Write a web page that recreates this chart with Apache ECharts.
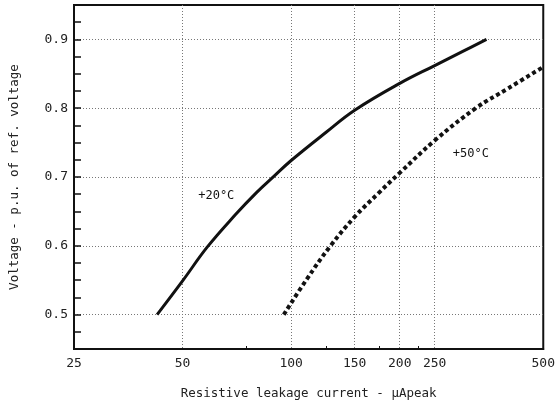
<!DOCTYPE html>
<html>
<head>
<meta charset="utf-8">
<script src="https://cdn.jsdelivr.net/npm/echarts@6/dist/echarts.min.js"></script>
<style>
  html, body { margin: 0; padding: 0; background: #fff; }
  #main { width: 558px; height: 406px; }
</style>
</head>
<body>
<div id="main"></div>
<script>
    // 曲线数据
    var current20 = [42.5, 50, 58.5, 70, 80, 90, 100, 125, 150, 200, 250, 300, 348];
    var voltage20 = [0.5, 0.549, 0.598, 0.645, 0.677, 0.702, 0.724, 0.765, 0.797, 0.836, 0.862, 0.883, 0.9];
    var current50 = [95.4, 110, 128.6, 150, 175, 200, 250, 325, 400, 500];
    var voltage50 = [0.5, 0.55, 0.6, 0.642, 0.677, 0.706, 0.753, 0.8, 0.829, 0.86];

    var xLabels = [25, 50, 100, 150, 200, 250, 500];
    var xGrid = [50, 100, 150, 200, 250];
    var xMinorTicks = [75, 125, 175, 225];
    var yLabels = [0.5, 0.6, 0.7, 0.8, 0.9];
    var yTicks = [0.475, 0.5, 0.525, 0.55, 0.575, 0.6, 0.625, 0.65, 0.675, 0.7, 0.725, 0.75, 0.775, 0.8, 0.825, 0.85, 0.875, 0.9, 0.925];

    function pairs(xs, ys) {
        var out = [];
        for (var i = 0; i < xs.length; i++) out.push([xs[i], ys[i]]);
        return out;
    }

    var font = 'DejaVu Sans Mono';
    var myChart = echarts.init(document.getElementById('main'));

    var option = {
        animation: false,
        grid: {
            left: 73, right: 10, top: 5, bottom: 57,
            show: true, borderColor: '#111', borderWidth: 2, backgroundColor: 'transparent'
        },
        xAxis: [{
            type: 'log', logBase: 10, min: 25, max: 500,
            name: 'Resistive leakage current - \u00b5Apeak',
            nameLocation: 'middle', nameGap: 38,
            nameTextStyle: { fontFamily: font, fontSize: 12.5, color: '#222' },
            axisLine: { show: true, lineStyle: { color: '#111', width: 2 } },
            axisTick: { show: false, customValues: xGrid },
            axisLabel: { customValues: xLabels, fontFamily: font, fontSize: 13, color: '#222', margin: 8,
                formatter: function (v) { return String(Math.round(v)); } },
            splitLine: { show: true, lineStyle: { color: '#777', type: [1, 2], width: 1 } },
            minorTick: { show: false }, minorSplitLine: { show: false }
        }, {
            type: 'log', logBase: 10, min: 25, max: 500, position: 'bottom',
            axisLine: { show: false },
            axisTick: { show: true, inside: true, length: 3, customValues: xMinorTicks, lineStyle: { color: '#111' } },
            axisLabel: { show: false },
            splitLine: { show: false }
        }],
        yAxis: [{
            type: 'value', min: 0.45, max: 0.95,
            name: 'Voltage - p.u. of ref. voltage',
            nameLocation: 'middle', nameGap: 53, nameRotate: 90,
            nameTextStyle: { fontFamily: font, fontSize: 12.5, color: '#222' },
            axisLine: { show: true, lineStyle: { color: '#111', width: 2 } },
            axisTick: { show: false, customValues: yLabels },
            axisLabel: { customValues: yLabels, fontFamily: font, fontSize: 13, color: '#222', margin: 6,
                formatter: function (v) { return v.toFixed(1); } },
            splitLine: { show: true, lineStyle: { color: '#777', type: [1, 2], width: 1 } }
        }, {
            type: 'value', min: 0.45, max: 0.95, position: 'left',
            axisLine: { show: false },
            axisTick: { show: true, inside: true, length: 7, customValues: yTicks, lineStyle: { color: '#111', width: 1.5 } },
            axisLabel: { show: false },
            splitLine: { show: false }
        }],
        series: [{
            name: '+20°C',
            type: 'line',
            smooth: 0.4,
            symbol: 'none',
            lineStyle: { color: '#111', width: 3 },
            data: pairs(current20, voltage20),
            markPoint: {
                symbol: 'circle', symbolSize: 0,
                label: { show: true, formatter: '+20°C', fontFamily: font, fontSize: 12, color: '#111', position: 'inside' },
                data: [{ coord: [62, 0.672] }]
            }
        }, {
            name: '+50°C',
            type: 'line',
            smooth: 0.4,
            symbol: 'none',
            lineStyle: { color: '#111', width: 4, type: [4, 3] },
            data: pairs(current50, voltage50),
            markPoint: {
                symbol: 'circle', symbolSize: 0,
                label: { show: true, formatter: '+50°C', fontFamily: font, fontSize: 12, color: '#111', position: 'inside' },
                data: [{ coord: [315, 0.733] }]
            }
        }]
    };
    myChart.setOption(option);
</script>
</body>
</html>
